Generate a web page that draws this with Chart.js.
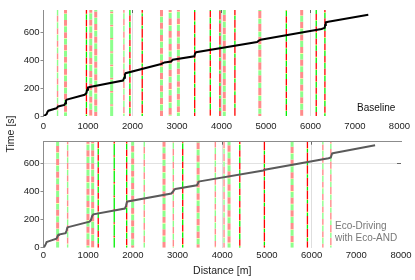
<!DOCTYPE html>
<html>
<head>
<meta charset="utf-8">
<script src="https://cdn.jsdelivr.net/npm/chart.js@4"></script>
<style>
    html, body { margin: 0; padding: 0; background: #fff; }
    #wrap { position: relative; width: 415px; height: 280px; font-family: "Liberation Sans", Arial, sans-serif; }
    canvas { position: absolute; left: 0; }
    #c1 { top: 0; }
    #c2 { top: 135px; }
    .lbl { position: absolute; white-space: nowrap; font-size: 10px; line-height: 12px; }
    #ylab { left: -20px; top: 128px; width: 60px; text-align: center; font-size: 10.5px; color: #222; transform: rotate(-90deg); }
    #lab1 { left: 357px; top: 102px; color: #111; }
    #lab2 { left: 335px; top: 220px; color: #777; }
</style>
</head>
<body>
<div id="wrap">
    <canvas id="c1" width="415" height="135"></canvas>
    <canvas id="c2" width="415" height="145"></canvas>
    <div class="lbl" id="ylab">Time [s]</div>
    <div class="lbl" id="lab1">Baseline</div>
    <div class="lbl" id="lab2">Eco-Driving<br>with Eco-AND</div>
</div>
<script>
// axis ticks
const distTicks = [0, 1000, 2000, 3000, 4000, 5000, 6000, 7000, 8000];
const timeTicks = [0, 200, 400, 600];

// baseline trajectory (distance m, time s)
const baseDist = [0, 30, 70, 90, 110, 290, 310, 330, 470, 490, 505, 525, 925, 965, 980, 1000, 1040,
    1785, 1815, 1830, 1845, 2645, 2720, 2870, 2905, 3390, 3406, 3430, 4800, 4840, 4880,
    6250, 6320, 6330, 6345, 6400, 7300];
const baseTime = [0, 4, 14, 30, 38, 55, 62, 68, 80, 92, 112, 118, 152, 165, 188, 204, 208,
    254, 275, 298, 307, 373, 384, 391, 404, 428, 447, 457, 530, 540, 547,
    624, 632, 652, 671, 675, 726];

// eco-driving trajectory
const ecoDist = [0, 20, 50, 70, 110, 290, 310, 330, 345, 495, 515, 535, 555, 1030, 1060, 1090, 1115,
    1820, 1845, 1865, 1885, 2860, 2900, 2930, 2950, 3430, 3455, 3475, 3495, 4920, 4950,
    6380, 6430, 6445, 6460, 6500, 7420];
const ecoTime = [0, 8, 25, 40, 45, 64, 75, 90, 93, 103, 120, 143, 146, 184, 195, 225, 236,
    277, 295, 322, 328, 384, 398, 412, 416, 442, 455, 468, 470, 547, 552,
    634, 640, 655, 668, 671, 726];

// traffic signals: cycle / offset (s), shared by both runs
const sigCycle  = [90, 88, 90, 92, 90, 95, 90, 88, 90, 90, 92, 90, 90, 88, 90, 92, 90, 92, 90, 90, 88, 90];
const sigOffset = [0, 15, 30, 45, 60, 10, 25, 70, 5, 50, 35, 20, 65, 40, 55, 10, 30, 75, 5, 45, 60, 20];
const yellowTime = 4;

const basePos   = [316, 495, 965, 1062, 1174, 1532, 1807, 1942, 2219, 2652, 2847, 3032, 3398, 3749, 3966, 4063, 4302, 4862, 5458, 5803, 6130, 6325];
const baseGreen = [42, 42, 40, 45, 42, 80, 42, 40, 22, 42, 40, 45, 25, 40, 22, 42, 28, 35, 40, 42, 40, 40];
const baseStyle = ['lt', 'lw', 'st', 'lw', 'lw', 'lw', 'lt', 'st', 'st', 'lw', 'lw', 'lw', 'st', 'st', 'st', 'lw', 'st', 'lw', 'st', 'lw', 'st', 'st'];

const ecoPos   = [316, 540, 995, 1100, 1225, 1583, 1861, 1995, 2255, 2697, 2905, 3115, 3460, 3845, 4040, 4152, 4392, 4943, 5563, 5906, 6251, 6430];
const ecoGreen = [42, 40, 42, 45, 42, 80, 40, 42, 38, 42, 40, 40, 40, 42, 35, 42, 40, 25, 42, 25, 42, 35];
const ecoStyle = ['lw', 'lt', 'lw', 'lw', 'st', 'st', 'st', 'lw', 'lt', 'lw', 'lt', 'st', 'lw', 'lt', 'lt', 'lw', 'st', 'st', 'lw', 'st', 'lt', 'lt'];

const FONT = "'Liberation Sans', Arial, sans-serif";
const AXIS_GRAY = '#8c8c8c';
const NONE = 'rgba(0,0,0,0)';

const styleColors = {
    lw: ['#8cff8c', '#ffff8c', '#ff8c8c'],
    lt: ['#8cff8c', '#ffff8c', '#ff8c8c'],
    st: ['#00f000', '#ffff00', '#ff0000']
};
const styleWidth = { lw: 3, lt: 1.4, st: 1.3 };

function signalDataset(pos, cycle, green, offset, style, tMax) {
    const colors = styleColors[style];
    const pts = [{ x: pos, y: 0 }];
    const cols = [];
    let t = -offset;
    while (t < tMax) {
        const parts = [[green, colors[0]], [yellowTime, colors[1]], [cycle - green - yellowTime, colors[2]]];
        for (const [len, col] of parts) {
            const end = Math.min(t + len, tMax);
            if (end > 0 && end > Math.max(t, 0)) {
                pts.push({ x: pos, y: end });
                cols.push(col);
            }
            t += len;
            if (t >= tMax) break;
        }
    }
    return {
        data: pts,
        borderColor: colors[2],
        borderWidth: styleWidth[style],
        borderCapStyle: 'butt',
        pointRadius: 0,
        segment: { borderColor: ctx => cols[ctx.p0DataIndex] }
    };
}

function makeChart(id, opt) {
    const datasets = [{
        data: opt.dist.map((d, i) => ({ x: d, y: opt.time[i] })),
        borderColor: opt.curveColor,
        borderWidth: 2,
        pointRadius: 0
    }];
    opt.pos.forEach((p, i) => {
        datasets.push(signalDataset(p, sigCycle[i], opt.green[i], sigOffset[i], opt.style[i], opt.tMax));
    });

    const scales = {
        x: {
            type: 'linear', min: 0, max: 8000,
            afterBuildTicks: s => { s.ticks = distTicks.map(v => ({ value: v })); },
            ticks: { font: { family: FONT, size: 9.5 }, color: '#222', padding: opt.xPad, maxRotation: 0, autoSkip: false, callback: v => String(v) },
            grid: { color: c => [2000, 4000, 6000].includes(c.tick.value) ? '#dedede' : NONE, drawTicks: false },
            border: { display: false },
            title: opt.xTitle ? { display: true, text: opt.xTitle, font: { family: FONT, size: 10.5 }, color: '#222', padding: { top: 0, bottom: 3 } } : { display: false },
            afterFit: s => { s.height = opt.xHeight; }
        },
        xt: {
            type: 'linear', position: 'top', min: 0, max: 8000,
            afterBuildTicks: s => { s.ticks = [2000, 4000, 6000].map(v => ({ value: v })); },
            ticks: { display: false },
            grid: { drawOnChartArea: false, tickLength: -3, tickColor: '#666' },
            border: { display: opt.topBorder, color: AXIS_GRAY },
            afterFit: s => { s.height = 0; }
        },
        y: {
            type: 'linear', min: 0, max: opt.tMax,
            afterBuildTicks: s => { s.ticks = timeTicks.map(v => ({ value: v })); },
            ticks: { font: { family: FONT, size: 9.5 }, color: '#222', padding: 1 },
            grid: {
                drawOnChartArea: opt.grid600,
                color: c => c.tick.value === 600 ? '#e2e2e2' : NONE,
                tickLength: 3, tickColor: AXIS_GRAY
            },
            border: { display: true, color: AXIS_GRAY },
            afterFit: s => { s.width = 43.5; }
        }
    };
    if (opt.grid600) {
        scales.yr = {
            type: 'linear', position: 'right', min: 0, max: opt.tMax,
            afterBuildTicks: s => { s.ticks = [{ value: 600 }]; },
            ticks: { display: false },
            grid: { drawOnChartArea: false, tickLength: -4, tickColor: '#666' },
            border: { display: false },
            afterFit: s => { s.width = 0; }
        };
    }

    return new Chart(document.getElementById(id), {
        type: 'line',
        data: { datasets },
        options: {
            responsive: false,
            animation: false,
            events: [],
            layout: { padding: { left: 0, right: 14, top: opt.padTop, bottom: 0 } },
            plugins: { legend: { display: false }, tooltip: { enabled: false } },
            scales
        }
    });
}

makeChart('c1', {
    dist: baseDist, time: baseTime, curveColor: '#000',
    pos: basePos, green: baseGreen, style: baseStyle,
    tMax: 760, padTop: 10, xHeight: 19, xPad: 5, topBorder: false, grid600: false
});

makeChart('c2', {
    dist: ecoDist, time: ecoTime, curveColor: '#5a5a5a',
    pos: ecoPos, green: ecoGreen, style: ecoStyle,
    tMax: 751, padTop: 3.3, xHeight: 32.3, xPad: 2, topBorder: true, grid600: true,
    xTitle: 'Distance [m]'
});
</script>
</body>
</html>
